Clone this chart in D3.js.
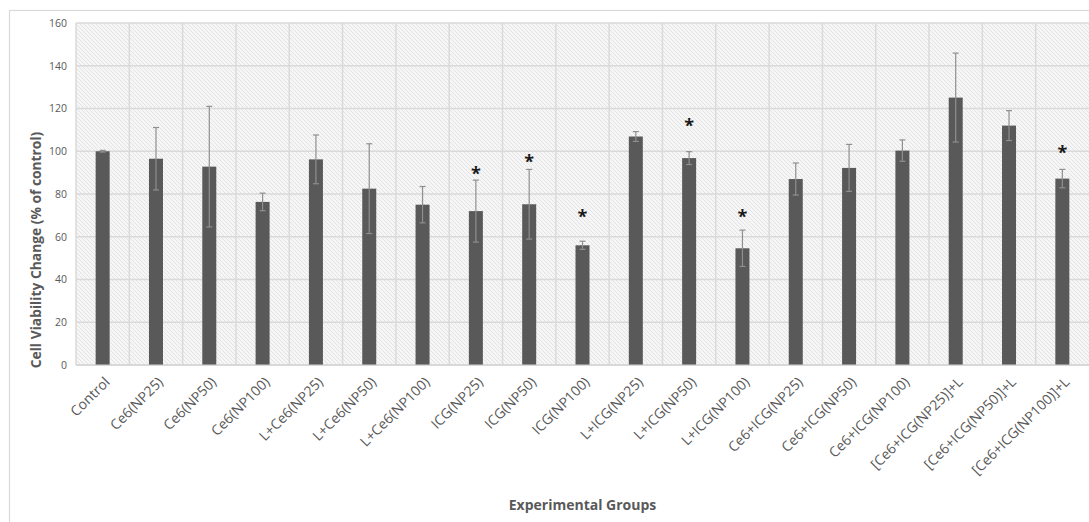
<!DOCTYPE html>
<html>
<head>
<meta charset="utf-8">
<script src="https://cdn.jsdelivr.net/npm/d3@7/dist/d3.min.js"></script>
<style>
  html, body { margin: 0; padding: 0; background: #ffffff; }
  svg { display: block; }
  text { font-family: "Open Sans", "Noto Sans", sans-serif; }
</style>
</head>
<body>
<svg id="chart" width="1089" height="522"></svg>
<script>
// Experimental groups along the x axis
const groups = [
  "Control", "Ce6(NP25)", "Ce6(NP50)", "Ce6(NP100)",
  "L+Ce6(NP25)", "L+Ce6(NP50)", "L+Ce6(NP100)",
  "ICG(NP25)", "ICG(NP50)", "ICG(NP100)",
  "L+ICG(NP25)", "L+ICG(NP50)", "L+ICG(NP100)",
  "Ce6+ICG(NP25)", "Ce6+ICG(NP50)", "Ce6+ICG(NP100)",
  "[Ce6+ICG(NP25)]+L", "[Ce6+ICG(NP50)]+L", "[Ce6+ICG(NP100)]+L"
];

// Mean cell viability (% of control)
const viability = [100, 96.5, 92.8, 76.3, 96.2, 82.5, 75, 72, 75.2, 56,
                   106.9, 96.8, 54.6, 87, 92.2, 100.3, 125.1, 112, 87.2];

// Error (± SD)
const errors = [0.4, 14.6, 28.2, 4.1, 11.4, 21, 8.5, 14.5, 16.3, 1.9,
                2.3, 3, 8.5, 7.5, 11, 5, 20.8, 7, 4.3];

// Significance markers: value level of the asterisk, null where none
const significance = [null, null, null, null, null, null, null, 90.4, 95.9, 70.1,
                      null, 112.6, 70.2, null, null, null, null, null, 100.3];

// Y axis ticks
const yTicks = [0, 20, 40, 60, 80, 100, 120, 140, 160];

const svg = d3.select("#chart");
const W = 1089, H = 522;
const plot = { left: 76, right: 1089, top: 23, bottom: 365 };

const x = d3.scaleBand().domain(groups).range([plot.left, plot.right]).paddingInner(0).paddingOuter(0);
const y = d3.scaleLinear().domain([0, 160]).range([plot.bottom, plot.top]);

// Outer chart frame
svg.append("rect")
  .attr("x", 9.5).attr("y", 10.5)
  .attr("width", W + 20).attr("height", H + 20)
  .attr("fill", "none").attr("stroke", "#d9d9d9").attr("stroke-width", 1.2);

// Diagonal hatch fill for the plot area
const defs = svg.append("defs");
const pat = defs.append("pattern")
  .attr("id", "hatch").attr("patternUnits", "userSpaceOnUse")
  .attr("width", 4).attr("height", 4);
pat.append("rect").attr("width", 4).attr("height", 4).attr("fill", "#f6f6f6");
pat.append("path").attr("d", "M-1,-1 L5,5 M-1,3 L1,5 M3,-1 L5,1")
  .attr("stroke", "#e3e3e3").attr("stroke-width", 1);

svg.append("rect")
  .attr("x", plot.left).attr("y", plot.top)
  .attr("width", plot.right - plot.left).attr("height", plot.bottom - plot.top)
  .attr("fill", "url(#hatch)");

// Horizontal gridlines
svg.append("g")
  .selectAll("line").data(yTicks).join("line")
  .attr("x1", plot.left).attr("x2", plot.right)
  .attr("y1", d => y(d)).attr("y2", d => y(d))
  .attr("stroke", "#dadada").attr("stroke-width", 1.5);

// Vertical gridlines at category boundaries
svg.append("g")
  .selectAll("line").data(groups).join("line")
  .attr("x1", d => x(d)).attr("x2", d => x(d))
  .attr("y1", plot.top).attr("y2", plot.bottom)
  .attr("stroke", "#dadada").attr("stroke-width", 1.5);

// Y axis tick labels
const yAxis = d3.axisLeft(y).tickValues(yTicks).tickSize(0).tickPadding(9);
const gy = svg.append("g").attr("transform", `translate(${plot.left},0)`).call(yAxis);
gy.select(".domain").remove();
gy.selectAll("text")
  .attr("font-family", "Open Sans, sans-serif")
  .attr("font-size", 10.5).attr("fill", "#595959");

// Bars
const barW = 14;
const cx = d => x(d) + x.bandwidth() / 2;
svg.append("g")
  .selectAll("rect").data(groups).join("rect")
  .attr("x", d => cx(d) - barW / 2)
  .attr("y", (d, i) => y(viability[i]))
  .attr("width", barW)
  .attr("height", (d, i) => y(0) - y(viability[i]))
  .attr("fill", "#595959");

// Error bars
const eb = svg.append("g").attr("stroke", "#8f8f8f").attr("stroke-width", 1.2);
groups.forEach((g, i) => {
  const hi = y(viability[i] + errors[i]);
  const lo = y(viability[i] - errors[i]);
  eb.append("line").attr("x1", cx(g)).attr("x2", cx(g)).attr("y1", hi).attr("y2", lo);
  eb.append("line").attr("x1", cx(g) - 3).attr("x2", cx(g) + 3).attr("y1", hi).attr("y2", hi);
  eb.append("line").attr("x1", cx(g) - 3).attr("x2", cx(g) + 3).attr("y1", lo).attr("y2", lo);
});

// X axis baseline
svg.append("line")
  .attr("x1", plot.left).attr("x2", plot.right)
  .attr("y1", plot.bottom).attr("y2", plot.bottom)
  .attr("stroke", "#d0d0d0").attr("stroke-width", 1.2);

// Significance asterisks
svg.append("g")
  .selectAll("text").data(groups.filter((g, i) => significance[i] !== null)).join("text")
  .attr("x", d => cx(d))
  .attr("y", d => y(significance[groups.indexOf(d)]) + 8)
  .attr("text-anchor", "middle")
  .attr("font-family", "DejaVu Sans, sans-serif")
  .attr("font-size", 18).attr("font-weight", "bold").attr("fill", "#1a1a1a")
  .text("*");

// X axis category labels (rotated)
svg.append("g")
  .selectAll("text").data(groups).join("text")
  .attr("transform", d => `translate(${cx(d) + 8},${plot.bottom + 18}) rotate(-45)`)
  .attr("text-anchor", "end")
  .attr("font-size", 14).attr("fill", "#595959")
  .text(d => d);

// Axis titles
svg.append("text")
  .attr("transform", `translate(41,250) rotate(-90)`)
  .attr("text-anchor", "middle")
  .attr("font-size", 13.8).attr("font-weight", "bold").attr("fill", "#595959")
  .text("Cell Viability Change (% of control)");

svg.append("text")
  .attr("x", (plot.left + plot.right) / 2).attr("y", 510)
  .attr("text-anchor", "middle")
  .attr("font-size", 14).attr("font-weight", "bold").attr("fill", "#595959")
  .text("Experimental Groups");
</script>
</body>
</html>
